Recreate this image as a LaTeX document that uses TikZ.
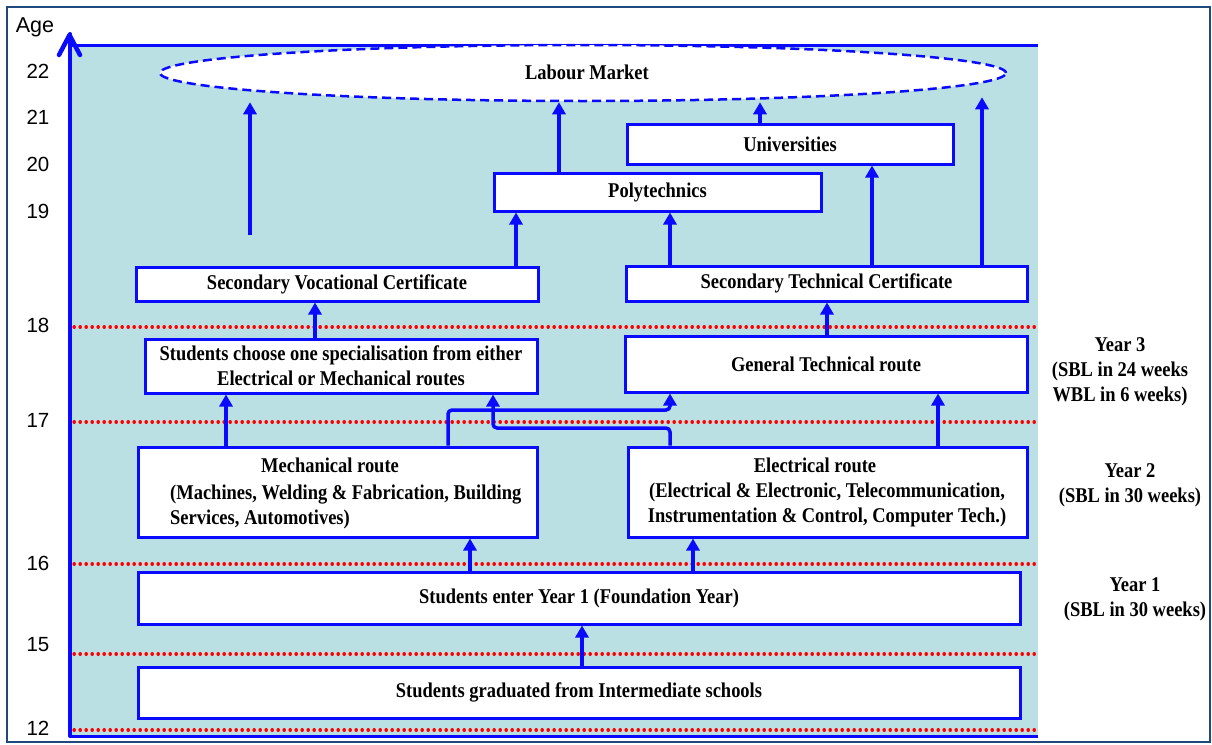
\documentclass[tikz,border=0pt]{standalone}
\usepackage{fontspec}
\setmainfont{Liberation Serif}
\newfontfamily\agefont{Liberation Sans}
\newfontfamily\boxfont{Liberation Serif}[FakeStretch=0.88]
\usetikzlibrary{arrows.meta,shapes.geometric}

\definecolor{panel}{RGB}{187,224,227}
\definecolor{route}{RGB}{10,10,255}
\definecolor{framecol}{RGB}{31,73,125}

\begin{document}
\begin{tikzpicture}[x=1pt,y=-1pt,
  stage/.style={draw=route, line width=3pt, fill=white, inner sep=0pt,
    font=\boxfont\bfseries\fontsize{21}{25}\selectfont, align=center},
  lbl/.style={inner sep=0pt, font=\boxfont\bfseries\fontsize{21}{25}\selectfont},
  flow/.style={draw=route, line width=3.5pt, -{Triangle[length=12pt,width=13pt]}},
  agemark/.style={font=\agefont\fontsize{20.5}{24}\selectfont, inner sep=0pt},
  agegrid/.style={draw=red, line width=3.2pt, dash pattern=on 0.4pt off 5.6pt, line cap=round}
]
\useasboundingbox (0,0) rectangle (1212,744);

% frame and shaded chart area
\draw[framecol, line width=2pt] (7,7) rectangle (1210,742);
\fill[panel] (70,45) rectangle (1038,736);

% age grid lines
\foreach \yy in {327,422,564,654,730}
  \draw[agegrid] (74,\yy) -- (1036,\yy);

% axes
\draw[route, line width=3pt] (70,45) -- (1038,45);
\draw[route, line width=3pt] (70,736) -- (1038,736);
\draw[route, line width=4pt, line cap=round, line join=round] (70,736) -- (70,34);
\coordinate (tipL) at (59,55);
\coordinate (tipC) at (69.5,35);
\coordinate (tipR) at (80,55);
\draw[route, line width=4.5pt, line cap=round, line join=round] (tipL) -- (tipC) -- (tipR);

% age labels
\node[agemark, font=\agefont\fontsize{21.5}{24}\selectfont] (agehead) at (35,27) {Age};
\node[agemark] (a22) at (38,71) {22};
\node[agemark] (a21) at (38,117) {21};
\node[agemark] (a20) at (38,164) {20};
\node[agemark] (a19) at (38,211) {19};
\node[agemark] (a18) at (38,325) {18};
\node[agemark] (a17) at (38,420) {17};
\node[agemark] (a16) at (38,563) {16};
\node[agemark] (a15) at (38,645) {15};
\node[agemark] (a12) at (38,728) {12};

% labour market
\node[ellipse, draw=route, fill=white, line width=2.5pt, dash pattern=on 9pt off 5pt,
  minimum width=846pt, minimum height=56pt, inner sep=0pt] (lm) at (583,73) {};
\node[lbl] (lmtext) at (587,72) {Labour Market};

% stages
\node[stage, minimum width=326pt, minimum height=40pt] (univ) at (790,144) {Universities};
\node[stage, minimum width=327pt, minimum height=38pt] (poly) at (657.5,192) {Polytechnics};
\node[stage, minimum width=402pt, minimum height=34pt] (svc) at (337,284) {Secondary Vocational Certificate};
\node[stage, minimum width=401pt, minimum height=35pt] (stc) at (826.5,283.5) {Secondary Technical Certificate};
\node[stage, minimum width=392pt, minimum height=54pt] (choose) at (341,366)
  {Students choose one specialisation from either\\Electrical or Mechanical routes};
\node[stage, minimum width=402pt, minimum height=56pt] (gtr) at (826,364) {General Technical route};
\node[stage, minimum width=399pt, minimum height=90pt] (mech) at (337.5,492) {};
\node[stage, minimum width=399pt, minimum height=90pt] (elec) at (827.5,492) {};
\node[stage, minimum width=882pt, minimum height=52pt] (year1) at (579,598) {Students enter Year 1 (Foundation Year)};
\node[stage, minimum width=882pt, minimum height=51pt] (grad) at (579,692.5) {Students graduated from Intermediate schools};

% route descriptions
\node[lbl] (mechhead) at (330,465) {Mechanical route};
\node[lbl, anchor=west, align=left] (mechbody) at (170,507)
  {(Machines, Welding \& Fabrication, Building\\Services, Automotives)};
\node[lbl] (elechead) at (815,465) {Electrical route};
\node[lbl, align=center] (elecbody) at (827,505)
  {(Electrical \& Electronic, Telecommunication,\\Instrumentation \& Control, Computer Tech.)};

% year notes
\node[lbl, align=center] (y3) at (1120,372) {Year 3\\(SBL in 24 weeks\\WBL in 6 weeks)};
\node[lbl, align=center] (y2) at (1130,485) {Year 2\\(SBL in 30 weeks)};
\node[lbl, align=center] (y1) at (1135,599) {Year 1\\(SBL in 30 weeks)};

% progression arrows
\coordinate (vstart) at (250,235);
\draw[flow] (vstart) -- (lm.south -| vstart);
\draw[flow] (poly.north -| 559,0) -- (lm.south -| 559,0);
\draw[flow] (univ.north -| 760,0) -- (lm.south -| 760,0);
\draw[flow] (stc.north -| 982,0) -- ([yshift=5pt]lm.south -| 982,0);
\draw[flow] (stc.north -| 872,0) -- (univ.south -| 872,0);
\draw[flow] (svc.north -| 516,0) -- (poly.south -| 516,0);
\draw[flow] (stc.north -| 670,0) -- (poly.south -| 670,0);
\draw[flow] (choose.north -| 315,0) -- (svc.south -| 315,0);
\draw[flow] (gtr.north -| 827,0) -- (stc.south -| 827,0);
\draw[flow] (mech.north -| 226,0) -- (choose.south -| 226,0);
\draw[flow] (elec.north -| 938,0) -- (gtr.south -| 938,0);
\draw[flow, rounded corners=4pt] (mech.north -| 448,0) -- (448,410) -- (670,410) -- (gtr.south -| 670,0);
\draw[flow, rounded corners=4pt] (elec.north -| 670,0) -- (670,428) -- (493,428) -- (choose.south -| 493,0);
\draw[flow] (year1.north -| 470,0) -- (mech.south -| 470,0);
\draw[flow] (year1.north -| 693,0) -- (elec.south -| 693,0);
\draw[flow] (grad.north -| 582,0) -- (year1.south -| 582,0);
\end{tikzpicture}
\end{document}
